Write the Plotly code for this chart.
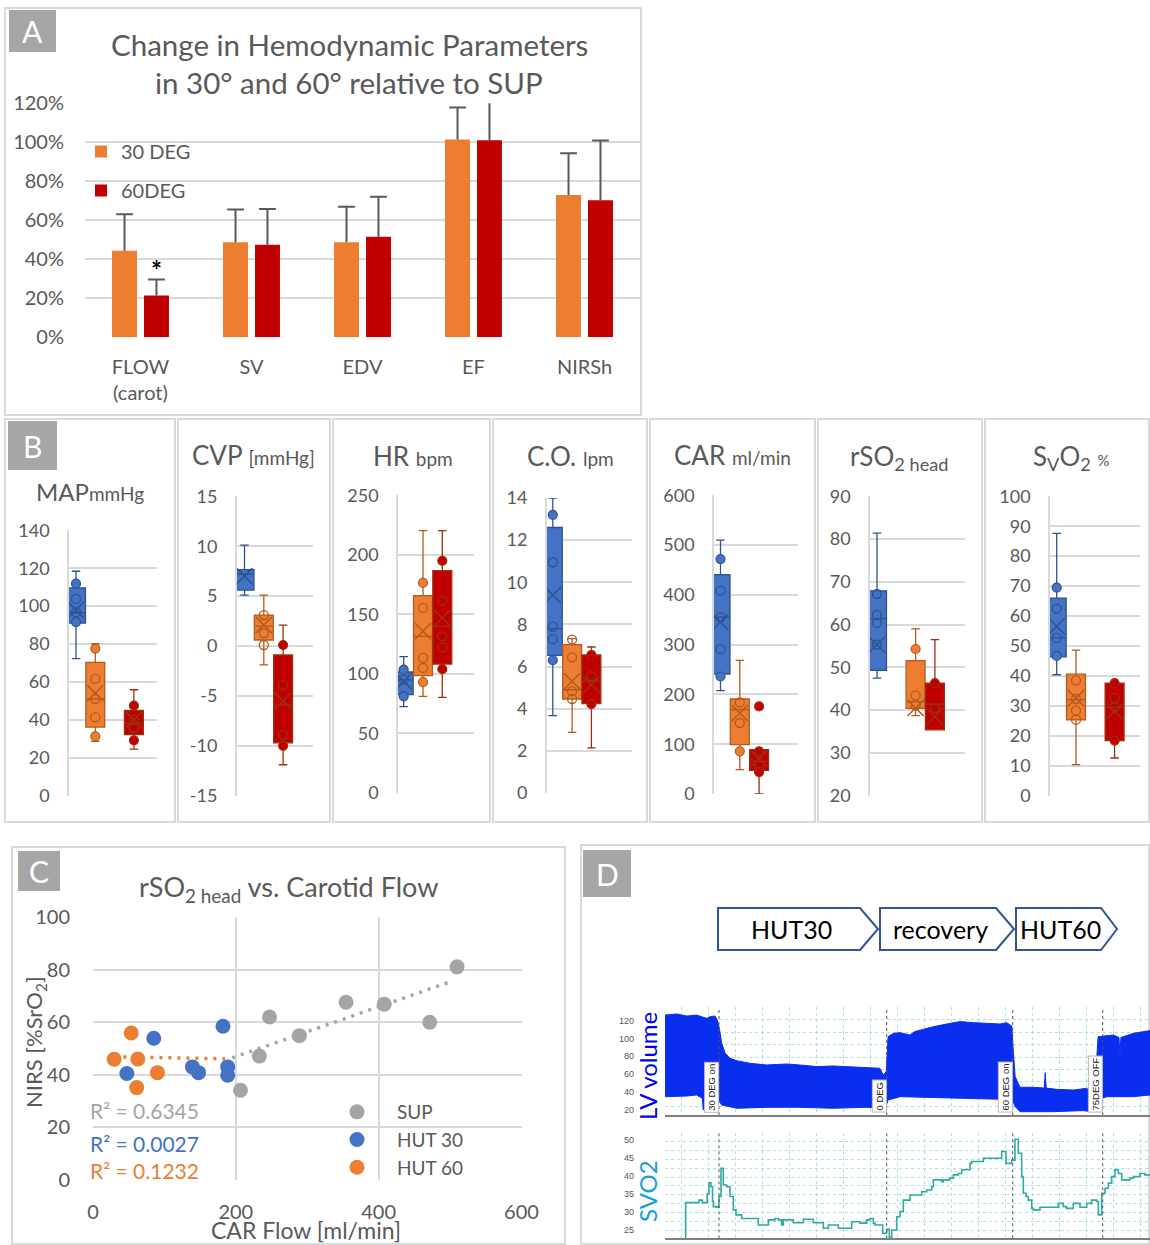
import numpy as np
import plotly.graph_objects as go

# ============================ data ============================
# Panel A - change relative to supine (fraction) with +SD
A_CATEGORIES = ["FLOW<br>(carot)", "SV", "EDV", "EF", "NIRSh"]
A_30DEG = [0.444, 0.487, 0.487, 1.015, 0.730]
A_30DEG_ERR = [0.187, 0.169, 0.183, 0.164, 0.214]
A_60DEG = [0.214, 0.474, 0.516, 1.010, 0.703]
A_60DEG_ERR = [0.083, 0.184, 0.205, 0.240, 0.306]

# Panel B - box statistics: [lower whisker, Q1, median, Q3, upper whisker, mean]
MAP_STATS = {"SUP": [72.3, 91.1, 96.5, 109.6, 118.4, 98.0],
             "HUT30": [28.7, 36.2, 51.0, 70.3, 80.2, 54.0],
             "HUT60": [24.6, 32.2, 38.3, 45.0, 55.9, 40.0]}
MAP_FILLED = {"SUP": [111.9, 91.6], "HUT30": [77.6, 31.3], "HUT60": [47.5, 29.2]}
MAP_OPEN = {"SUP": [103.8, 96.7], "HUT30": [61.6, 51.0, 41.3], "HUT60": [40.0, 35.7]}

CVP_STATS = {"SUP": [5.1, 5.6, 7.2, 7.65, 10.1, 7.0],
             "HUT30": [-1.9, 0.6, 2.0, 3.1, 5.1, 2.1],
             "HUT60": [-11.9, -9.7, -5.9, -0.9, 2.1, -5.5]}
CVP_FILLED = {"SUP": [], "HUT30": [], "HUT60": [0.1, -10.0]}
CVP_OPEN = {"SUP": [], "HUT30": [3.1, 1.3, 0.1], "HUT60": [-3.9, -8.9]}

HR_STATS = {"SUP": [72.5, 82.6, 95.0, 101.6, 114.5, 93.8],
            "HUT30": [81.2, 98.5, 131.6, 165.7, 220.3, 135.8],
            "HUT60": [80.3, 108.3, 140.0, 186.7, 220.3, 147.0]}
HR_FILLED = {"SUP": [103.6, 81.2], "HUT30": [176.4, 93.2], "HUT60": [195.0, 104.0]}
HR_OPEN = {"SUP": [95.2], "HUT30": [155.4, 113.4, 105.0], "HUT60": [161.5, 131.6, 122.3]}

CO_STATS = {"SUP": [3.67, 6.53, 7.8, 12.6, 14.0, 9.4],
            "HUT30": [2.88, 4.46, 4.9, 7.04, 7.33, 5.3],
            "HUT60": [2.14, 4.24, 5.3, 6.55, 6.93, 5.14]}
CO_FILLED = {"SUP": [13.2, 6.3], "HUT30": [], "HUT60": [6.55, 4.22]}
CO_OPEN = {"SUP": [10.95, 7.9, 7.3], "HUT30": [7.28, 6.44, 4.83, 4.46], "HUT60": [5.54]}

CAR_STATS = {"SUP": [207.6, 241.0, 355.0, 440.6, 510.0, 345.5],
             "HUT30": [48.9, 99.1, 169.4, 190.8, 268.5, 162.7],
             "HUT60": [0.0, 47.5, 65.6, 89.0, 89.0, 71.0]}
CAR_FILLED = {"SUP": [472.0, 236.0], "HUT30": [85.7], "HUT60": [176.0, 85.7, 44.0]}
CAR_OPEN = {"SUP": [408.5, 355.0, 291.0], "HUT30": [184.0, 142.6], "HUT60": [59.0]}

RSO2_STATS = {"SUP": [47.5, 49.3, 61.4, 67.9, 81.4, 55.3],
              "HUT30": [38.7, 40.4, 42.0, 51.6, 59.0, 40.5],
              "HUT60": [35.4, 35.4, 41.4, 46.3, 56.5, 38.5]}
RSO2_FILLED = {"SUP": [], "HUT30": [54.3], "HUT60": [46.3]}
RSO2_OPEN = {"SUP": [67.2, 62.3, 60.4, 55.3], "HUT30": [43.4, 41.1], "HUT60": [40.5]}

SVO2_STATS = {"SUP": [40.4, 46.4, 52.7, 66.0, 87.6, 56.6],
              "HUT30": [10.4, 25.3, 32.1, 40.6, 48.6, 32.6],
              "HUT60": [12.6, 18.4, 29.5, 37.6, 37.6, 28.2]}
SVO2_FILLED = {"SUP": [69.5, 46.7], "HUT30": [], "HUT60": [37.6, 18.4]}
SVO2_OPEN = {"SUP": [62.5, 52.7], "HUT30": [38.5, 32.3, 28.4, 25.4], "HUT60": [32.6, 29.5]}

# Panel C - rSO2 head vs carotid flow
SUP_FLOW = [509.8, 354.3, 407.8, 471.5, 247.2, 289.0, 233.0, 206.5]
SUP_NIRS = [81.0, 67.5, 66.8, 59.9, 61.9, 54.8, 47.0, 34.0]
HUT30_FLOW = [47.4, 85.1, 139.2, 147.8, 182.0, 188.6, 188.6]
HUT30_NIRS = [40.4, 53.8, 42.9, 40.7, 58.4, 42.9, 39.7]
HUT60_FLOW = [29.6, 53.5, 62.7, 61.2, 90.2]
HUT60_NIRS = [45.8, 55.8, 45.9, 35.0, 40.7]
# linear trendlines: slope, intercept, x-span
SUP_TREND = [0.095, 27.8]
SUP_TREND_SPAN = [195, 504]
HUT60_TREND = [-0.005, 46.9]
HUT60_TREND_SPAN = [30, 185]
R2_TEXTS = ["R² = 0.6345", "R² = 0.0027", "R² = 0.1232"]

# Panel D - monitor recording (time in minutes)
LV_T_UP = [0, 2.4, 4.5, 6.5, 8.6, 9.3, 10.3, 10.8, 11.2, 11.7, 12.4, 13.4, 14.8, 17.5, 20.9,
           25.1, 27.8, 31.3, 34.7, 37.5, 41.6, 44.3, 45.0, 45.6, 46.0, 47.1, 48.5, 50.5, 51.5,
           52.6, 55.3, 58.1, 60.8, 63.6, 66.3, 69.1, 70.4, 71.5, 71.8, 72.2, 73.2, 75.9, 78.2,
           78.4, 78.6, 80.7, 84.2, 86.9, 88.0, 88.6, 89.3, 90.4, 92.4, 93.6, 93.8, 94.0, 96.6, 100]
LV_UP = [126.1, 127.3, 125.0, 126.1, 122.4, 124.3, 125.0, 120.6, 111.3, 94.5, 83.4, 77.8, 75.1,
         72.2, 70.3, 71.4, 70.3, 68.5, 69.2, 68.5, 67.3, 66.6, 59.1, 62.8, 101.9, 105.7, 106.4,
         103.8, 107.6, 109.4, 113.1, 116.1, 118.8, 117.6, 116.9, 116.1, 117.6, 113.9, 87.0, 57.2,
         45.4, 45.4, 44.5, 61.7, 44.5, 43.1, 42.3, 44.2, 40.4, 43.1, 101.9, 102.7, 103.8, 101.0,
         81.5, 101.0, 105.7, 108.7]
LV_T_LO = [0, 4.5, 6.5, 7.7, 7.9, 8.1, 8.6, 10.3, 11.0, 11.7, 14.8, 20.9, 27.8, 34.7, 41.6, 44.3,
           45.3, 46.0, 48.5, 55.3, 62.0, 69.1, 71.5, 72.2, 73.2, 80.0, 86.1, 88.3, 89.0, 91.1, 96.6, 100]
LV_LO = [34.9, 35.6, 36.8, 33.0, 20.0, 33.0, 34.9, 33.0, 31.2, 25.6, 21.9, 23.0, 23.0, 21.9, 23.0,
         21.9, 20.0, 31.2, 34.9, 34.2, 33.0, 32.0, 33.0, 23.8, 18.1, 18.1, 19.3, 18.1, 31.2, 34.9,
         34.9, 36.8]
SVO2_T = [4.26, 4.26, 7.01, 7.70, 8.70, 9.07, 9.48, 9.80, 9.97, 10.65, 11.13, 11.55, 12.03, 12.71,
          13.40, 14.09, 14.64, 15.81, 19.24, 21.31, 22.68, 23.37, 24.05, 24.40, 26.46, 28.52,
          30.58, 32.65, 33.68, 35.74, 38.49, 40.21, 41.58, 42.27, 42.96, 43.30, 44.88, 45.70,
          46.25, 46.74, 47.77, 48.45, 49.14, 50.52, 52.92, 53.95, 54.98, 55.33, 57.04, 57.39,
          58.76, 59.45, 60.48, 61.17, 62.89, 63.23, 65.64, 69.42, 70.31, 71.48, 72.16, 72.85,
          73.54, 73.88, 74.43, 74.91, 75.60, 75.94, 77.32, 81.10, 82.13, 82.82, 84.19, 85.57,
          86.94, 87.97, 89.00, 89.35, 90.03, 90.72, 91.41, 92.10, 92.78, 93.47, 94.16, 95.88,
          96.56, 97.94, 98.97, 100.0]
SVO2_TRACE = [22.7, 32.6, 33.3, 32.6, 35.0, 38.1, 37.0, 33.0, 31.5, 31.3, 34.3, 42.1, 37.5, 37.0,
              34.3, 30.6, 29.2, 28.2, 26.4, 27.8, 28.2, 27.8, 26.4, 27.8, 27.0, 28.0, 27.0, 25.5,
              26.4, 25.5, 27.3, 26.9, 27.8, 28.2, 26.9, 26.4, 24.1, 25.2, 23.0, 25.0, 28.7, 30.1,
              33.3, 34.7, 35.6, 36.1, 37.0, 38.9, 38.4, 38.9, 39.4, 40.3, 40.7, 41.7, 43.5, 44.0,
              44.9, 46.8, 43.5, 44.4, 50.2, 46.3, 39.8, 35.2, 34.3, 33.3, 31.0, 30.6, 31.3, 32.4,
              31.5, 31.0, 32.4, 31.3, 32.4, 33.3, 32.9, 29.2, 35.2, 36.6, 38.0, 39.8, 41.7, 40.7,
              38.9, 39.4, 39.8, 40.7, 40.3, 40.3]
EVENT_T = [11.13, 45.71, 71.69, 90.25]
EVENT_LABELS = ["30 DEG on", "0 DEG", "60 DEG on", "75DEG OFF"]
PHASES = ["HUT30", "recovery", "HUT60"]

# ============================ style ============================
W, H = 1150, 1245
FONT = "Lato"
TXT = "#595959"
GRID = "#D9D9D9"
BLUE, ORANGE, RED, GREY = "#4472C4", "#ED7D31", "#C00000", "#A5A5A5"
FILL = {"SUP": BLUE, "HUT30": ORANGE, "HUT60": RED}
EDGE = {"SUP": "#2F528F", "HUT30": "#B35A1F", "HUT60": "#9C3010"}
MON_GRID = "#A9E2E2"


def px_x(a, b):
    return [a / W, b / W]


def px_y(top, bottom):
    return [1 - bottom / H, 1 - top / H]


def X(p):
    return p / W


def Y(p):
    return 1 - p / H


def plain_ticks(lo, hi, step):
    """Tick values/labels with an ASCII hyphen for negatives."""
    vals = np.arange(lo, hi + step / 2, step)
    return list(vals), [f"{v:g}" for v in vals]


fig = go.Figure()
shapes, annotations = [], []
# margins are fixed at zero: nothing may push them, so paper coordinates map 1:1 to the canvas
layout = dict(width=W, height=H, margin=dict(l=0, r=0, t=0, b=0, autoexpand=False),
              paper_bgcolor="white", plot_bgcolor="white", barmode="overlay",
              font=dict(family=FONT, color=TXT), showlegend=True)

# ---------------- panel frames and letter tags ----------------
FRAMES = [(5, 8, 641, 415), (5, 419, 175, 822), (178, 419, 330, 822), (333, 419, 490, 822),
          (493, 419, 647, 822), (650, 419, 815, 822), (818, 419, 982, 822), (985, 419, 1149, 822),
          (12, 847, 565, 1244), (581, 845, 1149, 1244)]
for x0, y0, x1, y1 in FRAMES:
    shapes.append(dict(type="rect", xref="paper", yref="paper", x0=X(x0), x1=X(x1), y0=Y(y1), y1=Y(y0),
                       line=dict(color="#DADADA", width=2), layer="below"))
TAGS = [("A", 9, 10, 56, 52), ("B", 8, 421, 57, 470), ("C", 18, 851, 60, 891), ("D", 583, 850, 631, 897)]
for letter, x0, y0, x1, y1 in TAGS:
    shapes.append(dict(type="rect", xref="paper", yref="paper", x0=X(x0), x1=X(x1), y0=Y(y1), y1=Y(y0),
                       fillcolor="#A6A6A6", line=dict(width=0), layer="above"))
    annotations.append(dict(text=letter, xref="paper", yref="paper", x=X((x0 + x1) / 2), y=Y((y0 + y1) / 2),
                            showarrow=False, font=dict(size=30, color="white", family=FONT),
                            xanchor="center", yanchor="middle"))

# ============================ panel A ============================
A_BAR_W = 0.225
A_OFFSET = 0.144
a_idx = np.arange(len(A_CATEGORIES))
for name, vals, errs, color, off in (("30 DEG", A_30DEG, A_30DEG_ERR, ORANGE, -A_OFFSET),
                                     ("60DEG", A_60DEG, A_60DEG_ERR, RED, A_OFFSET)):
    xs = a_idx + off
    fig.add_trace(go.Bar(
        x=xs, y=vals, width=A_BAR_W, name=name, legend="legend", legendgroup=name,
        marker=dict(color=color, line=dict(width=0)),
        error_y=dict(type="data", symmetric=False, array=errs, arrayminus=[0] * len(vals),
                     color="#595959", thickness=2, width=0),
        xaxis="x", yaxis="y", hoverinfo="skip"))
    fig.add_trace(go.Scatter(
        x=xs, y=np.array(vals) + np.array(errs), mode="markers", showlegend=False,
        marker=dict(symbol="line-ew-open", size=12, color="#595959", line=dict(width=2, color="#595959")),
        xaxis="x", yaxis="y", hoverinfo="skip"))

layout["xaxis"] = dict(domain=px_x(85, 640), range=[-0.5, 4.5], anchor="y", tickmode="array",
                       tickvals=list(a_idx), ticktext=A_CATEGORIES, showgrid=False, zeroline=False,
                       showline=False, ticks="", ticklabelstandoff=16, automargin=False,
                       tickfont=dict(size=20, color=TXT, family=FONT))
layout["yaxis"] = dict(domain=px_y(103.3, 337.3), range=[0, 1.2], dtick=0.2, tick0=0, tickformat=".0%",
                       anchor="x", showgrid=True, gridcolor=GRID, gridwidth=2, zeroline=False,
                       showline=False, ticks="", ticklabelstandoff=20, automargin=False,
                       tickfont=dict(size=20, color=TXT, family=FONT))
layout["legend"] = dict(x=X(81), y=Y(132), xanchor="left", yanchor="top", bgcolor="rgba(0,0,0,0)",
                        tracegroupgap=10, font=dict(size=20, color=TXT, family=FONT))
annotations.append(dict(text="Change in Hemodynamic Parameters", xref="paper", yref="paper",
                        x=X(349), y=Y(44), showarrow=False, xanchor="center", yanchor="middle",
                        font=dict(size=29.5, color=TXT, family=FONT)))
annotations.append(dict(text="in 30° and 60° relative to SUP", xref="paper", yref="paper",
                        x=X(349), y=Y(83), showarrow=False, xanchor="center", yanchor="middle",
                        font=dict(size=29.5, color=TXT, family=FONT)))
annotations.append(dict(text="<b>*</b>", xref="x", yref="y", x=a_idx[0] + A_OFFSET,
                        y=A_60DEG[0] + A_60DEG_ERR[0], yshift=9, showarrow=False,
                        font=dict(size=26, color="black", family=FONT)))

# ============================ panel B ============================
SLOT_W = 19.3
B_PANELS = [
    dict(stats=MAP_STATS, filled=MAP_FILLED, open_=MAP_OPEN, L=69, R=157, top=530.3, bottom=795.7,
         c0=76, slots=[0, 1, 3], yr=[0, 140], dtick=20,
         title="MAP<span style='font-size:19px'>mmHg</span>", tx=90, ty=491, tsize=24),
    dict(stats=CVP_STATS, filled=CVP_FILLED, open_=CVP_OPEN, L=236.7, R=313, top=496.3, bottom=795.7,
         c0=244.5, slots=[0, 1, 2], yr=[-15, 15], dtick=5,
         title="CVP <span style='font-size:19px'>[mmHg]</span>", tx=253.5, ty=455, tsize=26),
    dict(stats=HR_STATS, filled=HR_FILLED, open_=HR_OPEN, L=398, R=474, top=495.3, bottom=793,
         c0=403.7, slots=[0, 1, 2], yr=[0, 250], dtick=50,
         title="HR <span style='font-size:19px'>bpm</span>", tx=412.5, ty=456, tsize=26),
    dict(stats=CO_STATS, filled=CO_FILLED, open_=CO_OPEN, L=546.7, R=631.7, top=498, bottom=793,
         c0=552.8, slots=[0, 1, 2], yr=[0, 14], dtick=2,
         title="C.O. <span style='font-size:19px'>lpm</span>", tx=570, ty=456, tsize=26),
    dict(stats=CAR_STATS, filled=CAR_FILLED, open_=CAR_OPEN, L=714, R=798, top=495.3, bottom=794,
         c0=720.5, slots=[0, 1, 2], yr=[0, 600], dtick=100,
         title="CAR <span style='font-size:19px'>ml/min</span>", tx=732, ty=455, tsize=26),
    dict(stats=RSO2_STATS, filled=RSO2_FILLED, open_=RSO2_OPEN, L=870, R=965, top=496.3, bottom=795.7,
         c0=877, slots=[0, 2, 3], yr=[20, 90], dtick=10,
         title="rSO<sub>2 head</sub>", tx=899, ty=458, tsize=26),
    dict(stats=SVO2_STATS, filled=SVO2_FILLED, open_=SVO2_OPEN, L=1050, R=1140, top=496.3, bottom=795.7,
         c0=1056.7, slots=[0, 1, 3], yr=[0, 100], dtick=10,
         title="S<sub>V</sub>O<sub>2</sub> <span style='font-size:15px'>%</span>", tx=1071, ty=458, tsize=26),
]

for i, p in enumerate(B_PANELS):
    n = i + 2
    xa, ya = f"x{n}", f"y{n}"
    for slot, key in zip(p["slots"], ("SUP", "HUT30", "HUT60")):
        lo, q1, med, q3, hi, mean = p["stats"][key]
        fig.add_trace(go.Box(
            x=[slot], q1=[q1], median=[med], q3=[q3], lowerfence=[lo], upperfence=[hi],
            width=0.98, whiskerwidth=0.45, fillcolor=FILL[key], line=dict(color=EDGE[key], width=1.3),
            boxpoints=False, showlegend=False, hoverinfo="skip", xaxis=xa, yaxis=ya))
        if p["open_"][key]:
            fig.add_trace(go.Scatter(
                x=[slot] * len(p["open_"][key]), y=p["open_"][key], mode="markers", showlegend=False,
                marker=dict(symbol="circle-open", size=9, color=EDGE[key], line=dict(width=1.3)),
                hoverinfo="skip", xaxis=xa, yaxis=ya))
        if p["filled"][key]:
            fig.add_trace(go.Scatter(
                x=[slot] * len(p["filled"][key]), y=p["filled"][key], mode="markers", showlegend=False,
                marker=dict(symbol="circle", size=9, color=FILL[key], line=dict(width=1.2, color=EDGE[key])),
                hoverinfo="skip", xaxis=xa, yaxis=ya))
        fig.add_trace(go.Scatter(
            x=[slot], y=[mean], mode="markers", showlegend=False,
            marker=dict(symbol="x-thin-open", size=16, color=EDGE[key], line=dict(width=1.5, color=EDGE[key])),
            hoverinfo="skip", xaxis=xa, yaxis=ya))
    rng = [(p["L"] - p["c0"]) / SLOT_W, (p["R"] - p["c0"]) / SLOT_W]
    tvals, ttext = plain_ticks(p["yr"][0], p["yr"][1], p["dtick"])
    layout[f"xaxis{n}"] = dict(domain=px_x(p["L"], p["R"]), range=rng, anchor=ya, showgrid=False,
                               zeroline=False, showticklabels=False, showline=False, ticks="",
                               automargin=False)
    layout[f"yaxis{n}"] = dict(domain=px_y(p["top"], p["bottom"]), range=p["yr"], tickmode="array",
                               tickvals=tvals, ticktext=ttext, anchor=xa, showgrid=True, gridcolor=GRID,
                               gridwidth=1.5, zeroline=False, showline=True, linecolor=GRID, linewidth=1.5,
                               ticks="", ticklabelstandoff=14, automargin=False,
                               tickfont=dict(size=18, color=TXT, family=FONT))
    annotations.append(dict(text=p["title"], xref="paper", yref="paper", x=X(p["tx"]), y=Y(p["ty"]),
                            showarrow=False, xanchor="center", yanchor="middle",
                            font=dict(size=p["tsize"], color=TXT, family=FONT)))

# ============================ panel C ============================
c_x, c_y = "x9", "y9"
trend_x = np.array(SUP_TREND_SPAN)
fig.add_trace(go.Scatter(x=trend_x, y=SUP_TREND[0] * trend_x + SUP_TREND[1], mode="lines",
                         line=dict(color=GREY, width=3.5, dash="3px,6px"), showlegend=False,
                         hoverinfo="skip", xaxis=c_x, yaxis=c_y))
trend_x60 = np.array(HUT60_TREND_SPAN)
fig.add_trace(go.Scatter(x=trend_x60, y=HUT60_TREND[0] * trend_x60 + HUT60_TREND[1], mode="lines",
                         line=dict(color=ORANGE, width=3.5, dash="3px,6px"), showlegend=False,
                         hoverinfo="skip", xaxis=c_x, yaxis=c_y))
for name, xs, ys, color in (("SUP", SUP_FLOW, SUP_NIRS, GREY), ("HUT 30", HUT30_FLOW, HUT30_NIRS, BLUE),
                            ("HUT 60", HUT60_FLOW, HUT60_NIRS, ORANGE)):
    fig.add_trace(go.Scatter(x=xs, y=ys, mode="markers", name=name, legend="legend2",
                             marker=dict(size=15, color=color, line=dict(width=0)),
                             hoverinfo="skip", xaxis=c_x, yaxis=c_y))
layout["xaxis9"] = dict(domain=px_x(93, 521.5), range=[0, 600], dtick=200, tick0=0, anchor=c_y,
                        showgrid=True, gridcolor=GRID, gridwidth=2, zeroline=False, showline=False,
                        ticks="", ticklabelstandoff=18, automargin=False,
                        tickfont=dict(size=20, color=TXT, family=FONT))
layout["yaxis9"] = dict(domain=px_y(917, 1179.5), range=[0, 100], dtick=20, tick0=0, anchor=c_x,
                        showgrid=True, gridcolor=GRID, gridwidth=2, zeroline=False, showline=False,
                        ticks="", ticklabelstandoff=22, automargin=False,
                        tickfont=dict(size=20, color=TXT, family=FONT))
layout["legend2"] = dict(x=X(317), y=Y(1093), xanchor="left", yanchor="top", itemwidth=70,
                         bgcolor="rgba(0,0,0,0)", font=dict(size=19, color=TXT, family=FONT))
annotations.append(dict(text="rSO<sub>2 head</sub> vs. Carotid Flow", xref="paper", yref="paper",
                        x=X(288), y=Y(888), showarrow=False, xanchor="center", yanchor="middle",
                        font=dict(size=27, color=TXT, family=FONT)))
annotations.append(dict(text="NIRS [%SrO<sub>2</sub>]", xref="paper", yref="paper", x=X(35), y=Y(1042),
                        textangle=-90, showarrow=False, xanchor="center", yanchor="middle",
                        font=dict(size=22, color=TXT, family=FONT)))
annotations.append(dict(text="CAR Flow [ml/min]", xref="paper", yref="paper", x=X(306), y=Y(1230),
                        showarrow=False, xanchor="center", yanchor="middle",
                        font=dict(size=23, color=TXT, family=FONT)))
for txt, col, ypx in zip(R2_TEXTS, (GREY, BLUE, ORANGE), (1110, 1143, 1170)):
    annotations.append(dict(text=txt, xref="paper", yref="paper", x=X(88), y=Y(ypx), showarrow=False,
                            xanchor="left", yanchor="middle", font=dict(size=21, color=col, family=FONT)))

# ============================ panel D ============================
lv_x, lv_y, sv_x, sv_y = "x10", "y10", "x11", "y11"
fig.add_trace(go.Scatter(x=LV_T_LO, y=LV_LO, mode="lines", line=dict(color="#0A2EF0", width=1),
                         showlegend=False, hoverinfo="skip", xaxis=lv_x, yaxis=lv_y))
fig.add_trace(go.Scatter(x=LV_T_UP, y=LV_UP, mode="lines", line=dict(color="#0A2EF0", width=1),
                         fill="tonexty", fillcolor="#0A2EF0", showlegend=False, hoverinfo="skip",
                         xaxis=lv_x, yaxis=lv_y))
fig.add_trace(go.Scatter(x=SVO2_T, y=SVO2_TRACE, mode="lines", line=dict(color="#2FA9A1", width=1.6, shape="hv"),
                         showlegend=False, hoverinfo="skip", xaxis=sv_x, yaxis=sv_y))

mon_x = dict(range=[0, 100], showticklabels=False, ticks="", showgrid=True, tick0=3.44, dtick=5.567,
             gridcolor=MON_GRID, griddash="dot", gridwidth=1, zeroline=False, showline=True,
             linecolor="#808080", linewidth=2, automargin=False)
mon_tick = dict(size=9, color="#555555", family="Liberation Sans")
layout["xaxis10"] = dict(domain=px_x(665, 1150), anchor=lv_y, **mon_x)
layout["yaxis10"] = dict(domain=px_y(1007, 1115), range=[14.4, 135.1], tickmode="linear", tick0=20, dtick=20,
                         anchor=lv_x, showgrid=False, zeroline=False, showline=False, ticks="",
                         ticklabelstandoff=30, tickfont=mon_tick, automargin=False,
                         minor=dict(tickmode="linear", tick0=120.6, dtick=13.85, showgrid=True,
                                    gridcolor=MON_GRID, griddash="dot", gridwidth=1))
layout["xaxis11"] = dict(domain=px_x(665, 1150), anchor=sv_y, **mon_x)
layout["yaxis11"] = dict(domain=px_y(1132.7, 1238.3), range=[22.7, 52.0], tickmode="linear", tick0=25, dtick=5,
                         anchor=sv_x, showgrid=False, zeroline=False, showline=False, ticks="",
                         ticklabelstandoff=30, tickfont=mon_tick, automargin=False,
                         minor=dict(tickmode="linear", tick0=52.0, dtick=2.46, showgrid=True,
                                    gridcolor=MON_GRID, griddash="dot", gridwidth=1))

for t, lab in zip(EVENT_T, EVENT_LABELS):
    for xr, yr in ((lv_x, lv_y), (sv_x, sv_y)):
        shapes.append(dict(type="line", xref=xr, yref=f"{yr} domain", x0=t, x1=t, y0=0, y1=1,
                           line=dict(color="#555555", width=1, dash="dot"), layer="above"))
    annotations.append(dict(text=lab, xref=lv_x, yref=f"{lv_y} domain", x=t, y=0.02, textangle=-90,
                            xanchor="right", yanchor="bottom", showarrow=False, bgcolor="white",
                            bordercolor="#BBBBBB", borderwidth=1, borderpad=1,
                            font=dict(size=9.5, color="#222222", family="Liberation Sans")))

annotations.append(dict(text="LV volume", xref="paper", yref="paper", x=X(647), y=Y(1066), textangle=-90,
                        showarrow=False, xanchor="center", yanchor="middle",
                        font=dict(size=24, color="#0000EE", family=FONT)))
annotations.append(dict(text="SVO2", xref="paper", yref="paper", x=X(647), y=Y(1191), textangle=-90,
                        showarrow=False, xanchor="center", yanchor="middle",
                        font=dict(size=24, color="#14A0D8", family=FONT)))

# protocol phase arrows
CHEVRONS = [(718, 860, 878), (880, 996, 1014), (1016, 1101, 1117)]
CHEV_TOP, CHEV_BOT = 908, 950
for (x0, xn, xt), label in zip(CHEVRONS, PHASES):
    ym = (CHEV_TOP + CHEV_BOT) / 2
    path = (f"M {X(x0)},{Y(CHEV_TOP)} L {X(xn)},{Y(CHEV_TOP)} L {X(xt)},{Y(ym)} "
            f"L {X(xn)},{Y(CHEV_BOT)} L {X(x0)},{Y(CHEV_BOT)} Z")
    shapes.append(dict(type="path", xref="paper", yref="paper", path=path, fillcolor="white",
                       line=dict(color="#2F5597", width=2), layer="above"))
    annotations.append(dict(text=label, xref="paper", yref="paper", x=X((x0 + xn) / 2 + 2), y=Y(ym),
                            showarrow=False, xanchor="center", yanchor="middle",
                            font=dict(size=25, color="black", family=FONT)))

layout["shapes"] = shapes
layout["annotations"] = annotations
fig.update_layout(**layout)
fig.write_html("out.html")
